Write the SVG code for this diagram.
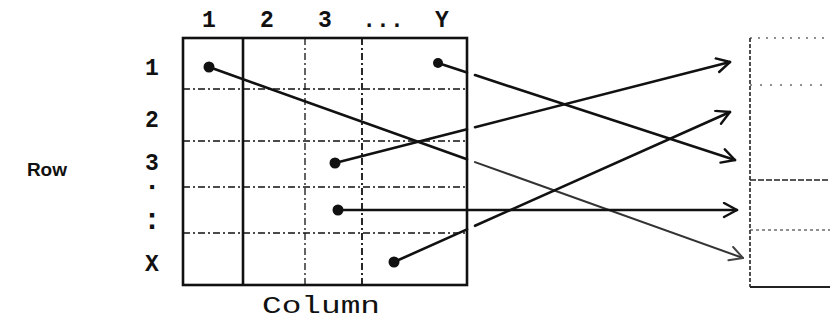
<svg xmlns="http://www.w3.org/2000/svg" width="830" height="322" viewBox="0 0 830 322">
<style>
.lbl{font-family:"Liberation Mono","DejaVu Sans Mono",monospace;font-weight:bold;font-size:23px;fill:#111;text-anchor:middle}
.grid{stroke:#111;fill:none}
.border{stroke-width:2.6}
.dash{stroke-width:1.3;stroke-dasharray:7 3 2 3}
.conn{stroke:#111;stroke-width:2.6;fill:none;stroke-linecap:round}
.dot{fill:#111}
.box{stroke:#222;fill:none}
</style>
<defs>
<marker id="arr" markerUnits="userSpaceOnUse" markerWidth="20" markerHeight="20" refX="15" refY="8" orient="auto">
<path d="M2,1 L15,8 L2,15" fill="none" stroke="#111" stroke-width="2.4" stroke-linecap="round" stroke-linejoin="round"/>
</marker>
<marker id="arrg" markerUnits="userSpaceOnUse" markerWidth="20" markerHeight="20" refX="15" refY="8" orient="auto">
<path d="M2,1 L15,8 L2,15" fill="none" stroke="#444" stroke-width="2" stroke-linecap="round" stroke-linejoin="round"/>
</marker>
</defs>

<g id="matrix">
<rect class="grid border" x="183" y="38" width="284" height="247"/>
<line class="grid border" x1="243" y1="38" x2="243" y2="285"/>
<line class="grid dash" x1="305" y1="38" x2="305" y2="285"/>
<line class="grid dash" style="stroke-width:1.8" x1="362" y1="38" x2="362" y2="285"/>
<line class="grid dash" x1="183" y1="89" x2="467" y2="89"/>
<line class="grid dash" x1="183" y1="141" x2="467" y2="141"/>
<line class="grid dash" x1="183" y1="187" x2="467" y2="187"/>
<line class="grid dash" x1="183" y1="233" x2="467" y2="233"/>
</g>

<g id="target">
<line class="box" stroke-width="1.6" stroke-dasharray="4 2" x1="750" y1="38" x2="750" y2="287"/>
<line class="box" stroke-width="1" stroke="#aaa" stroke-dasharray="2 6" x1="750" y1="38" x2="830" y2="38"/>
<line class="box" stroke-width="1" stroke="#aaa" stroke-dasharray="2 8" x1="750" y1="85" x2="830" y2="85"/>
<line class="box" stroke-width="1.3" stroke-dasharray="6 2" x1="750" y1="180" x2="830" y2="180"/>
<line class="box" stroke-width="1" stroke-dasharray="3 3" x1="750" y1="230" x2="830" y2="230"/>
<line class="box" stroke-width="2" x1="750" y1="287" x2="830" y2="287"/>
</g>

<g id="labels">
<text class="lbl" x="209" y="27">1</text>
<text class="lbl" x="267" y="27">2</text>
<text class="lbl" x="325" y="27">3</text>
<text class="lbl" x="383" y="27">...</text>
<text class="lbl" x="442" y="27">Y</text>
<text class="lbl" x="152" y="75">1</text>
<text class="lbl" x="152" y="127">2</text>
<text class="lbl" x="152" y="170">3</text>
<text class="lbl" x="152" y="188" style="font-size:12px;stroke:#111;stroke-width:2.2">.</text>
<text class="lbl" x="152" y="229" style="font-size:30px">:</text>
<text class="lbl" x="152" y="271">X</text>
<text x="67" y="176" style="font-family:'Liberation Sans',Arial,sans-serif;font-weight:bold;font-size:19px;fill:#111;text-anchor:end">Row</text>
<text x="262" y="313" textLength="118" lengthAdjust="spacingAndGlyphs" style="font-family:'Liberation Mono',monospace;font-size:23px;fill:#111">Column</text>
</g>

<g id="connectors">
<circle class="dot" cx="209" cy="67" r="5.5"/>
<line class="conn" x1="209" y1="67" x2="467" y2="159.3"/>
<line class="conn" style="stroke:#333;stroke-width:2" x1="475" y1="162.1" x2="743" y2="258" marker-end="url(#arrg)"/>

<circle class="dot" cx="438" cy="63" r="5"/>
<line class="conn" x1="438" y1="63" x2="467" y2="72.5"/>
<line class="conn" x1="475" y1="75.1" x2="735" y2="160" marker-end="url(#arr)"/>

<circle class="dot" cx="335" cy="163" r="5.5"/>
<line class="conn" x1="335" y1="163" x2="467" y2="129.2"/>
<line class="conn" x1="475" y1="127.2" x2="730" y2="62" marker-end="url(#arr)"/>

<circle class="dot" cx="338" cy="210" r="5.5"/>
<line class="conn" x1="338" y1="210" x2="737" y2="210" marker-end="url(#arr)"/>

<circle class="dot" cx="394" cy="262" r="5.5"/>
<line class="conn" x1="394" y1="262" x2="467" y2="229.4"/>
<line class="conn" x1="475" y1="225.8" x2="730" y2="112" marker-end="url(#arr)"/>
</g>
</svg>
